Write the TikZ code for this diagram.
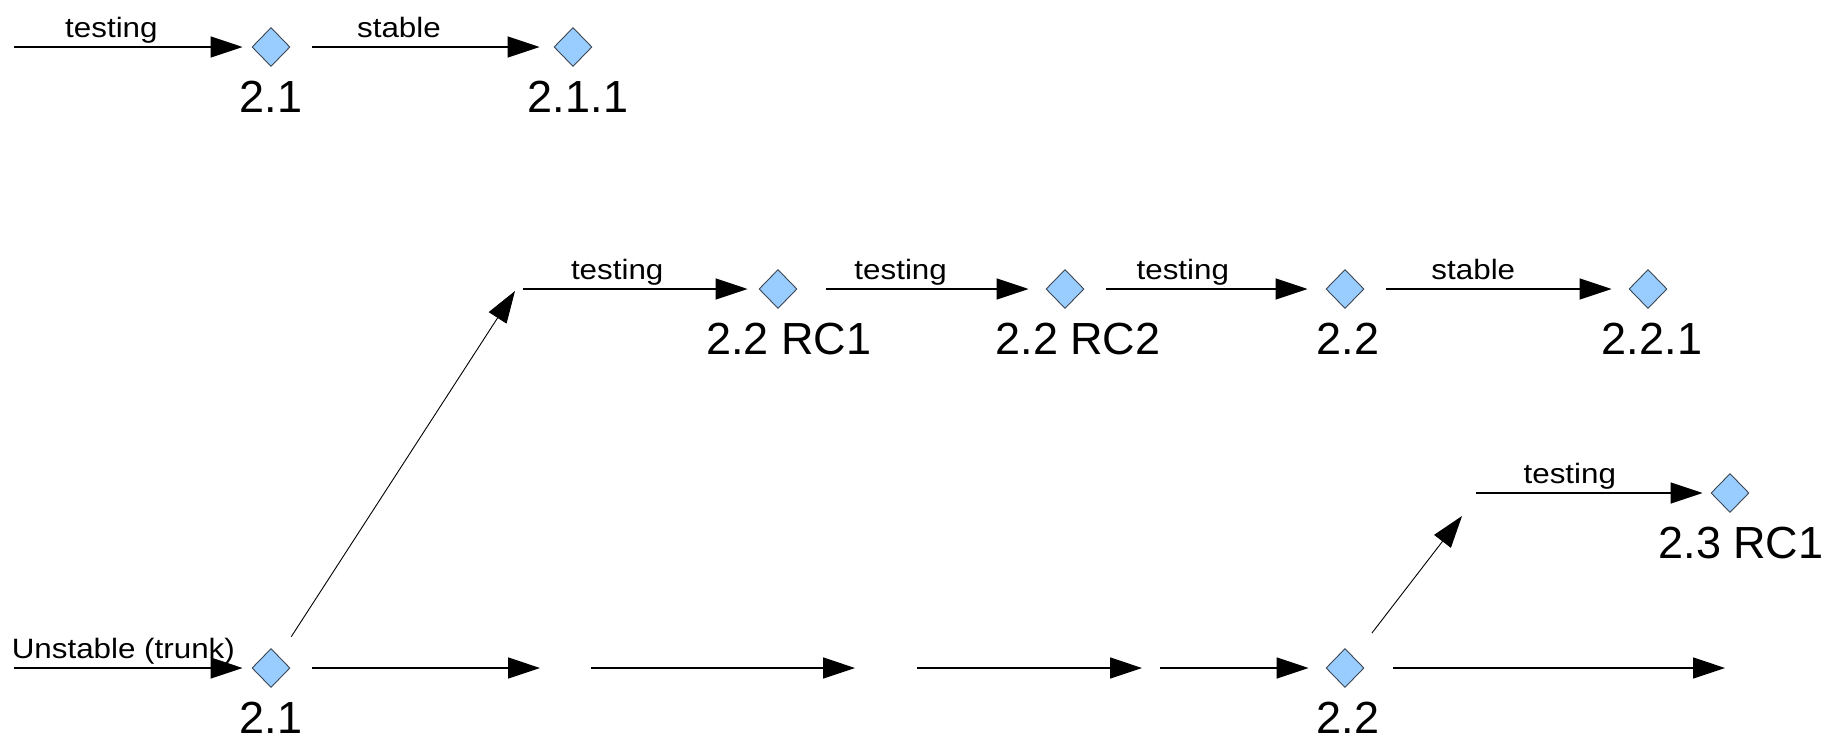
\documentclass[tikz,border=0pt]{standalone}
\usepackage{fontspec}
\setmainfont{Liberation Sans}
\newfontfamily\tagfont[FakeStretch=1.12]{Liberation Sans}
\usepackage{tikz}
\usetikzlibrary{arrows.meta,positioning,shapes.geometric}
\definecolor{relfill}{HTML}{99CCFF}
\definecolor{reldraw}{HTML}{3C4650}

\begin{document}
\begin{tikzpicture}[x=1pt, y=-1pt,
    rel/.style={diamond, draw=reldraw, line width=0.9pt, fill=relfill, minimum width=38pt, minimum height=39pt, inner sep=0pt},
    ver/.style={font=\fontsize{45}{50}\selectfont, inner sep=0pt, yshift=-14pt},
    tag/.style={font=\tagfont\fontsize{28}{32}\selectfont, anchor=base, yshift=10pt, inner sep=0pt},
    flow/.style={-{Triangle[length=32pt, width=21pt]}, line width=1.6pt},
    fork/.style={-{Triangle[length=32pt, width=21pt]}, line width=0.9pt}]
        \useasboundingbox (0,0) rectangle (1842,740);
        % Draw releases
        \node[rel, label={[ver]below:2.1}] (top21) at (271,47) {};
        \node[rel, label={[ver, xshift=5pt]below:2.1.1}] (top211) at (573,47) {};
        \node[rel, label={[ver, xshift=11pt]below:2.2 RC1}] (rc1) at (778,289) {};
        \node[rel, label={[ver, xshift=13pt]below:2.2 RC2}] (rc2) at (1065,289) {};
        \node[rel, label={[ver, xshift=3pt]below:2.2}] (mid22) at (1345,289) {};
        \node[rel, label={[ver, xshift=4pt]below:2.2.1}] (rel221) at (1648,289) {};
        \node[rel, label={[ver, xshift=11pt]below:2.3 RC1}] (rc23) at (1730,493) {};
        \node[rel, label={[ver]below:2.1}] (trunk21) at (271,668) {};
        \node[rel, label={[ver, xshift=3pt]below:2.2}] (trunk22) at (1345,668) {};
        % Free ends
        \coordinate (top0) at (14,47);
        \coordinate (top1) at (312,47);
        \coordinate (fork1) at (515,291);
        \coordinate (mid0) at (523,289);
        \coordinate (mid1) at (826,289);
        \coordinate (mid2) at (1106,289);
        \coordinate (mid3) at (1386,289);
        \coordinate (fork2) at (1462,516);
        \coordinate (br0) at (1476,493);
        \coordinate (trk0) at (14,668);
        \coordinate (trk1) at (312,668);
        \coordinate (trk1e) at (540,668);
        \coordinate (trk2) at (591,668);
        \coordinate (trk2e) at (855,668);
        \coordinate (trk3) at (917,668);
        \coordinate (trk3e) at (1142,668);
        \coordinate (trk4) at (1160,668);
        \coordinate (trk5) at (1393,668);
        \coordinate (trk5e) at (1725,668);
        % Draw 2.1 branch
        \draw[flow, shorten >=9pt] (top0) -- node[tag, pos=.41] {testing} (top21);
        \draw[flow, shorten >=14pt] (top1) -- node[tag, pos=.36] {stable} (top211);
        % Draw 2.2 branch
        \draw[fork, shorten <=23pt] (trunk21) -- (fork1);
        \draw[flow, shorten >=11pt] (mid0) -- node[tag, pos=.4] {testing} (rc1);
        \draw[flow, shorten >=17pt] (mid1) -- node[tag, pos=.34] {testing} (rc2);
        \draw[flow, shorten >=18pt] (mid2) -- node[tag, pos=.35] {testing} (mid22);
        \draw[flow, shorten >=17pt] (mid3) -- node[tag, pos=.36] {stable} (rel221);
        % Draw 2.3 branch
        \draw[fork, shorten <=30pt] (trunk22) -- (fork2);
        \draw[flow, shorten >=8pt] (br0) -- node[tag, pos=.4] {testing} (rc23);
        % Draw trunk
        \draw[flow, shorten >=9pt] (trk0) -- node[tag, anchor=base west, pos=0, xshift=-3pt] {Unstable (trunk)} (trunk21);
        \draw[flow] (trk1) -- (trk1e);
        \draw[flow] (trk2) -- (trk2e);
        \draw[flow] (trk3) -- (trk3e);
        \draw[flow, shorten >=17pt] (trk4) -- (trunk22);
        \draw[flow] (trk5) -- (trk5e);
    \end{tikzpicture}
\end{document}
